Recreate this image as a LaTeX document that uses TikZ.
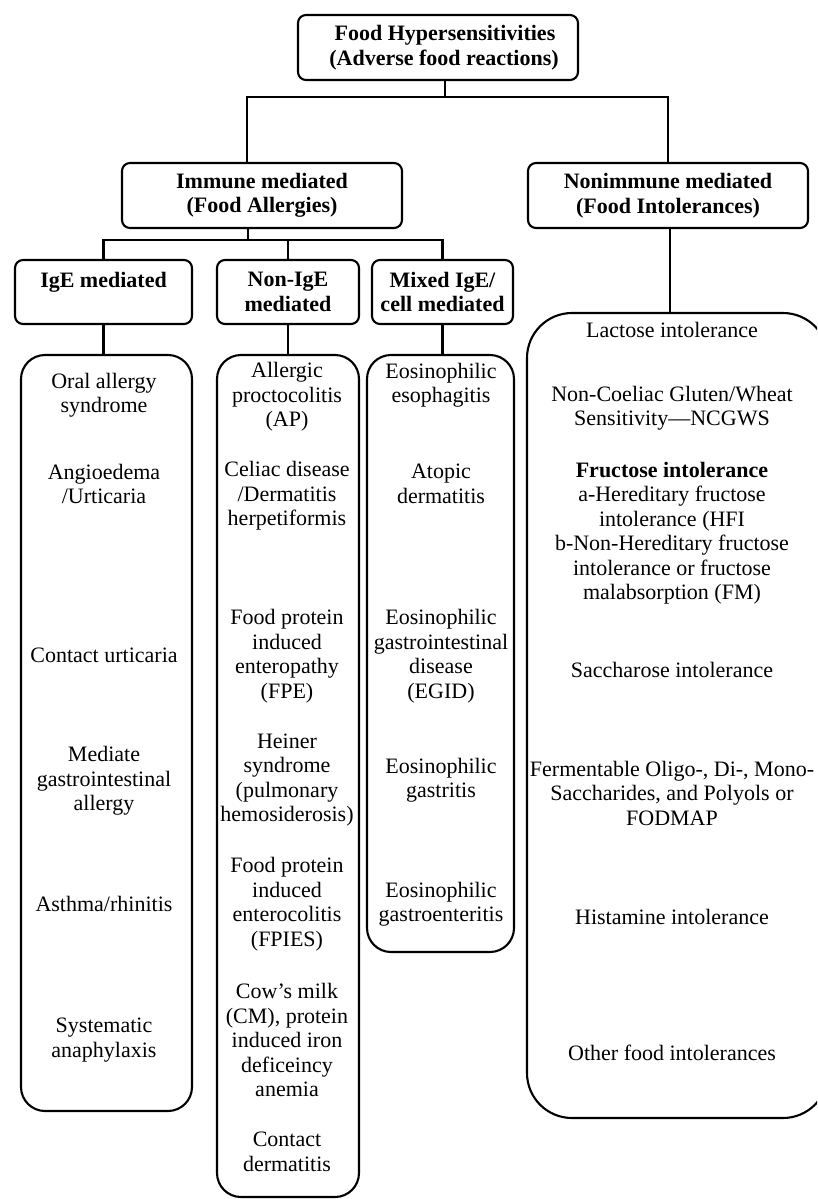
\documentclass[tikz,border=0pt]{standalone}
\usepackage{fontspec}
\setmainfont{Liberation Serif}
\usetikzlibrary{calc}

\tikzset{
  headbox/.style={draw, line width=2.1pt, rounded corners=8pt, inner sep=0pt, align=center,
    font=\fontsize{22}{24.5}\selectfont\bfseries},
  listbox/.style={draw, line width=2.1pt, rounded corners=24pt, inner sep=0pt},
  item/.style={align=center, inner sep=0pt, font=\fontsize{22}{24.5}\selectfont},
  link/.style={line width=2.1pt}
}

\begin{document}
\begin{tikzpicture}[x=1pt, y=-1pt]
		%%%%% frame %%%%%
		\useasboundingbox (0,0) rectangle (817,1199);
		\clip (0,0) rectangle (817,1199);
		
		%%%%% heading boxes %%%%%
		\node[headbox, minimum width=280, minimum height=65] (top) at (438,47.5) {\hspace*{14pt}Food Hypersensitivities\\\hspace*{12pt}(Adverse food reactions)};
		\node[headbox, minimum width=280, minimum height=65] (imm) at (262,195.5) {Immune mediated\\(Food Allergies)};
		\node[headbox, minimum width=280, minimum height=65] (nonimm) at (668,195.5) {Nonimmune mediated\\(Food Intolerances)};
		\node[headbox, minimum width=177, minimum height=64] (ige) at (103.5,292) {IgE mediated\\[-8pt]\strut};
		\node[headbox, minimum width=142, minimum height=64] (nonige) at (288,292) {Non-IgE\\mediated};
		\node[headbox, minimum width=141, minimum height=64] (mixed) at (442.5,292) {Mixed IgE/\\cell mediated};
		
		%%%%% list boxes %%%%%
		\node[listbox, minimum width=171, minimum height=756] (igelist) at (106.5,733) {};
		\node[listbox, minimum width=142, minimum height=842] (nonigelist) at (288,776) {};
		\node[listbox, minimum width=147, minimum height=597] (mixedlist) at (440.5,653.5) {};
		\node[listbox, rounded corners=45pt, minimum width=301, minimum height=805] (nonimmlist) at (677.5,715.5) {};
		
		%%%%% connectors %%%%%
		\coordinate (busA) at (445,97);
		\coordinate (busB) at (248,240);
		\draw[link] ([xshift=7pt]top.south) -- (busA);
		\draw[link] ([xshift=-15pt]imm.north) |- (busA) -| (nonimm.north);
		\draw[link] ([xshift=-14pt]imm.south) -- (busB);
		\draw[link] (ige.north) |- (busB) -| (mixed.north);
		\draw[link] (nonige.north) -- (nonige.north |- busB);
		\draw[link] (ige.south) -- (ige.south |- igelist.north);
		\draw[link] (nonige.south) -- (nonigelist.north);
		\draw[link] (mixed.south) -- (mixed.south |- mixedlist.north);
		\draw[link] ([xshift=2pt]nonimm.south) -- ([xshift=2pt]nonimm.south |- nonimmlist.north);
		
		%%%%% IgE mediated %%%%%
		\node[item] (ige1) at (104,395) {Oral allergy\\syndrome};
		\node[item] (ige2) at (104,484) {Angioedema\\/Urticaria};
		\node[item] (ige3) at (104,655) {Contact urticaria};
		\node[item] (ige4) at (104,781) {Mediate\\gastrointestinal\\allergy};
		\node[item] (ige5) at (104,904) {Asthma/rhinitis};
		\node[item] (ige6) at (104,1040) {Systematic\\anaphylaxis};
		
		%%%%% Non-IgE mediated %%%%%
		\node[item] (nig1) at (287,397) {Allergic\\proctocolitis\\(AP)};
		\node[item] (nig2) at (287,496) {Celiac disease\\/Dermatitis\\herpetiformis};
		\node[item] (nig3) at (287,656) {Food protein\\induced\\enteropathy\\(FPE)};
		\node[item] (nig4) at (287,780) {Heiner\\syndrome\\(pulmonary\\hemosiderosis)};
		\node[item] (nig5) at (287,904) {Food protein\\induced\\enterocolitis\\(FPIES)};
		\node[item] (nig6) at (287,1040) {Cow’s milk\\(CM), protein\\induced iron\\deficeincy\\anemia};
		\node[item] (nig7) at (287,1152) {Contact\\dermatitis};
		
		%%%%% Mixed %%%%%
		\node[item] (mx1) at (441,385) {Eosinophilic\\esophagitis};
		\node[item] (mx2) at (441,484) {Atopic\\dermatitis};
		\node[item] (mx3) at (441,656) {Eosinophilic\\gastrointestinal\\disease\\(EGID)};
		\node[item] (mx4) at (441,780) {Eosinophilic\\gastritis};
		\node[item] (mx5) at (441,904) {Eosinophilic\\gastroenteritis};
		
		%%%%% Nonimmune %%%%%
		\node[item] (ni1) at (672,330) {Lactose intolerance};
		\node[item] (ni2) at (672,408) {Non-Coeliac Gluten/Wheat\\Sensitivity---NCGWS};
		\node[item] (ni3) at (672,533) {{\bfseries Fructose intolerance}\\a-Hereditary fructose\\intolerance (HFI\\b-Non-Hereditary fructose\\intolerance or fructose\\malabsorption (FM)};
		\node[item] (ni4) at (672,670) {Saccharose intolerance};
		\node[item] (ni5) at (672,793) {Fermentable Oligo-, Di-, Mono-\\Saccharides, and Polyols or\\FODMAP};
		\node[item] (ni6) at (672,917) {Histamine intolerance};
		\node[item] (ni7) at (672,1053) {Other food intolerances};
\end{tikzpicture}
\end{document}
